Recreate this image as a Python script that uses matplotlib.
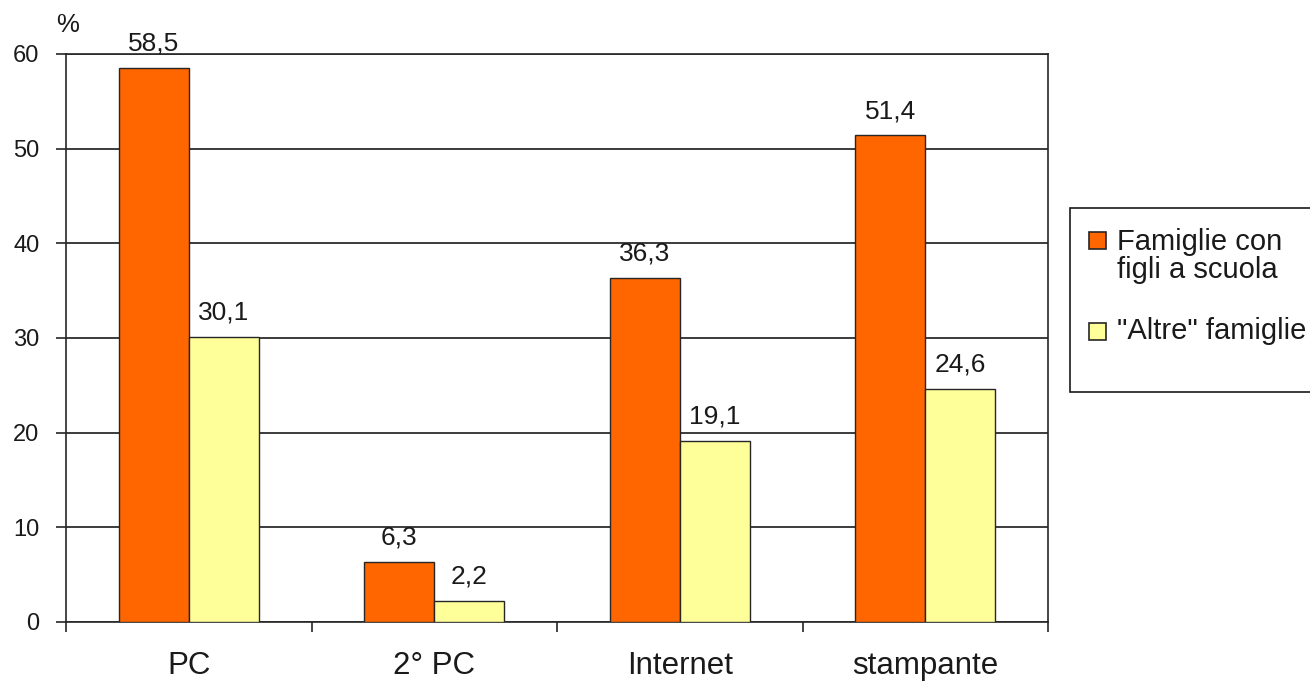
import matplotlib
matplotlib.use("Agg")
import matplotlib.pyplot as plt
from matplotlib.patches import Rectangle
import numpy as np

categories = ["PC", "2° PC", "Internet", "stampante"]
famiglie_figli = [58.5, 6.3, 36.3, 51.4]
altre_famiglie = [30.1, 2.2, 19.1, 24.6]
series_labels = ["Famiglie con\nfigli a scuola", "\"Altre\" famiglie"]
series_colors = ["#FF6600", "#FFFF99"]
yticks = [0, 10, 20, 30, 40, 50, 60]

plt.rcParams['font.family'] = ['Liberation Sans', 'DejaVu Sans']
txt = '#1a1a1a'
edge = '#262626'

W, H = 1310, 683
fig = plt.figure(figsize=(W/100, H/100), dpi=100)
ax = fig.add_axes([66/W, 1-622/H, (1048-66)/W, (622-54)/H])

def fx(px):
    return px / W

def fy(py):
    return 1 - py / H

x = np.arange(len(categories))
w = 0.285
b1 = ax.bar(x - w/2, famiglie_figli, w, color=series_colors[0], edgecolor=edge, linewidth=1.0,
            zorder=3)
b2 = ax.bar(x + w/2, altre_famiglie, w, color=series_colors[1], edgecolor=edge, linewidth=1.0,
            zorder=3)

def fmt(v):
    return f"{v:.1f}".replace('.', ',')

for bars, vals in ((b1, famiglie_figli), (b2, altre_famiglie)):
    for r, v in zip(bars, vals):
        ax.annotate(fmt(v), (r.get_x() + r.get_width()/2, v), xytext=(0, 12.5),
                    textcoords='offset points', ha='center', va='baseline',
                    fontsize=19, color=txt)

ax.set_xlim(-0.5, len(categories) - 0.5)
ax.set_ylim(0, 60)
ax.set_yticks(yticks)
ax.set_yticklabels([str(t) for t in yticks])
ax.yaxis.grid(True, color='#1a1a1a', linewidth=1.2, zorder=0)
ax.set_axisbelow(True)

ax.set_xticks(np.arange(len(categories) + 1) - 0.5)
ax.set_xticklabels([])
ax.set_xticks(x, minor=True)
ax.set_xticklabels(categories, minor=True)
ax.tick_params(axis='x', which='major', direction='out', length=7, width=1.2, color=edge)
ax.tick_params(axis='x', which='minor', length=0, pad=21, labelsize=22.5, labelcolor=txt)
ax.tick_params(axis='y', direction='out', length=7, width=1.2, color=edge, pad=12,
               labelsize=17, labelcolor=txt)

for s in ax.spines.values():
    s.set_color(edge)
    s.set_linewidth(1.2)

fig.text(fx(68), fy(25), "%", ha='center', va='center', fontsize=18.5, color=txt)

# legend drawn by hand (frame, colour squares, text lines)
fig.patches.append(Rectangle((fx(1070), fy(392)), fx(1320) - fx(1070), fy(208) - fy(392),
                             transform=fig.transFigure, facecolor='white',
                             edgecolor='#1a1a1a', linewidth=1.2))
entries = [(series_colors[0], series_labels[0], 249, [250, 278]),
           (series_colors[1], series_labels[1], 340, [339])]
for col, lab, sq_bottom, baselines in entries:
    fig.patches.append(Rectangle((fx(1089), fy(sq_bottom)), fx(17), 17 / H,
                                 transform=fig.transFigure, facecolor=col,
                                 edgecolor=edge, linewidth=1.2))
    for line, bl in zip(lab.split("\n"), baselines):
        fig.text(fx(1117), fy(bl), line, ha='left', va='baseline', fontsize=21, color=txt)

fig.savefig("out.png", dpi=100)
